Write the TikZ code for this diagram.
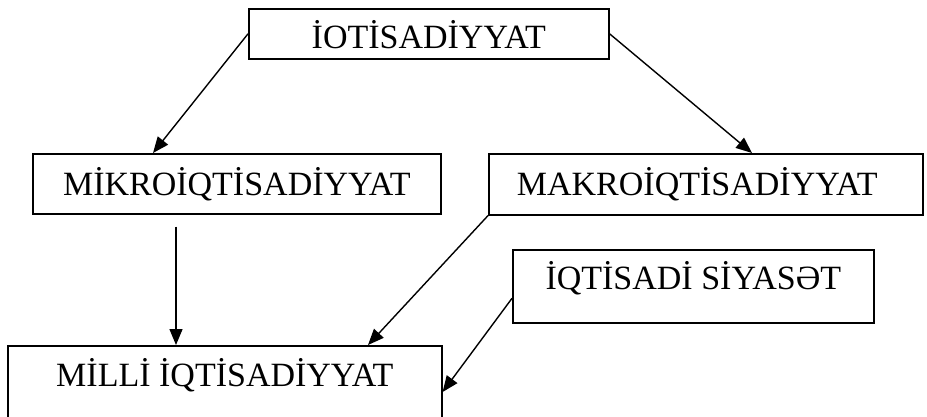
\documentclass[tikz,border=0pt]{standalone}
\usepackage{fontspec}
\setmainfont{Liberation Serif}
\usetikzlibrary{arrows.meta}
\begin{document}
\begin{tikzpicture}[x=1pt,y=-1pt,
  box/.style={draw,line width=1.6pt,inner xsep=0pt,inner ysep=0pt,anchor=north west,
    font=\fontsize{34}{40}\selectfont},
  arr/.style={line width=1.4pt,-{Triangle[length=16pt,width=13pt]}}]
\useasboundingbox[fill=white] (0,0) rectangle (927,416);
\node[box,minimum width=360pt,text height=40pt,text depth=10pt] (top) at (248,8) {İOTİSADİYYAT};
\node[box,minimum width=408pt,text height=42pt,text depth=18pt] (mikro) at (32,153) {MİKROİQTİSADİYYAT};
\node[box,minimum width=434pt,text height=42pt,text depth=19pt] (makro) at (488,153) {MAKROİQTİSADİYYAT\hspace*{17pt}};
\node[box,minimum width=361pt,text height=40pt,text depth=33pt] (iq) at (512,249) {İQTİSADİ SİYASƏT};
\node[box,minimum width=434pt,text height=41pt,text depth=44pt] (milli) at (7,345) {MİLLİ İQTİSADİYYAT};
\draw[arr] (top.west) -- ([xshift=121pt]mikro.north west);
\draw[arr] (top.east) -- ([xshift=264pt]makro.north west);
\coordinate (mstart) at ([xshift=144pt,yshift=-12pt]mikro.south west);
\draw[arr] (mstart) -- ([xshift=169pt]milli.north west);
\draw[arr] (makro.south west) -- ([xshift=361pt]milli.north west);
\draw[arr] ([yshift=-12pt]iq.west) -- ([yshift=-47pt]milli.north east);
\end{tikzpicture}
\end{document}
